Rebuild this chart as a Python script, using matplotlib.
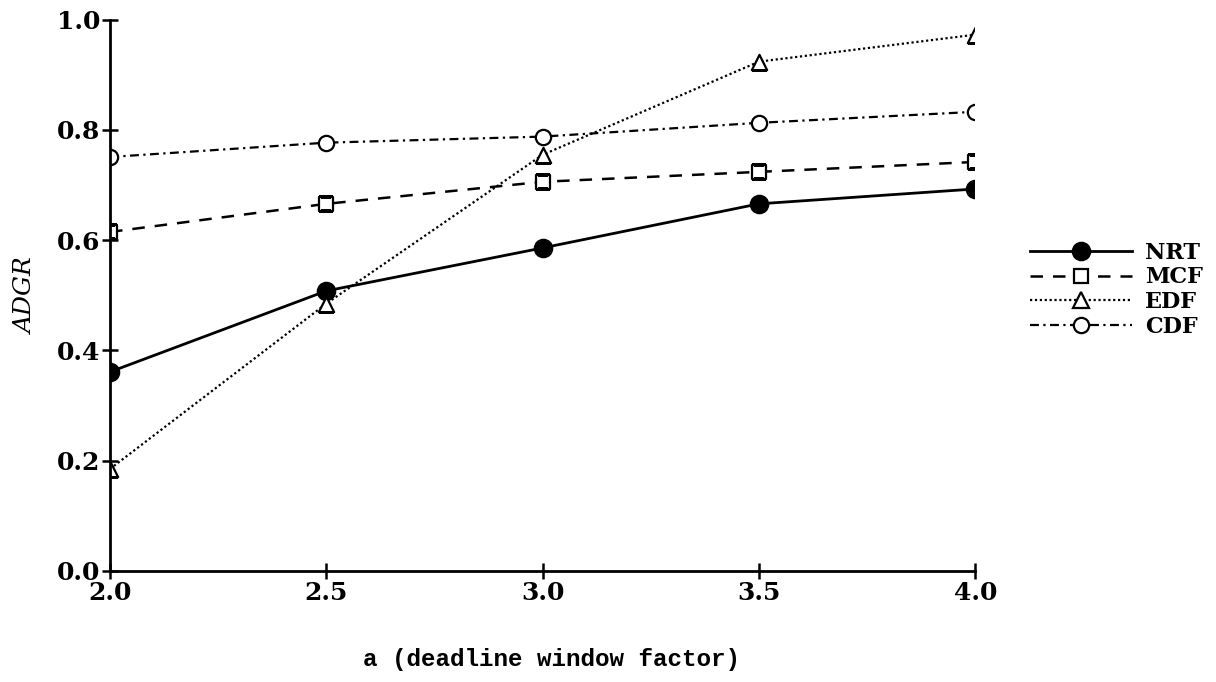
import numpy as np
import matplotlib
matplotlib.use("Agg")
import matplotlib.pyplot as plt
from matplotlib.lines import Line2D
from matplotlib.path import Path

# window factor a and ADGR for each scheduling policy
a_vals = [2.0, 2.5, 3.0, 3.5, 4.0]
nrt = [0.361, 0.508, 0.586, 0.666, 0.693]
mcf = [0.615, 0.666, 0.706, 0.724, 0.742]
edf = [0.185, 0.485, 0.755, 0.924, 0.973]
cdf = [0.751, 0.777, 0.788, 0.813, 0.833]

names = ['NRT', 'MCF', 'EDF', 'CDF']
series = [nrt, mcf, edf, cdf]
styles = [
    dict(ls='-', lw=2.0, marker='o', ms=12.5, mfc='black'),
    dict(ls=(0, (5, 4)), lw=1.8, marker='s', ms=10.5, mfc='white'),
    dict(ls=(0, (1, 1.2)), lw=1.6, marker='^', ms=11, mfc='white'),
    dict(ls=(0, (4, 2, 1, 2)), lw=1.6, marker='o', ms=11, mfc='white'),
]

fig = plt.figure(figsize=(12.16, 6.82), dpi=100)
ax = fig.add_axes([0.0905, 0.163, 0.7115, 0.808])

handles = []
for name, ys, st in zip(names, series, styles):
    ax.plot(a_vals, ys, color='black', ls=st['ls'], lw=st['lw'], zorder=2)
    pts = ax.scatter(a_vals, ys, s=st['ms'] ** 2, marker=st['marker'],
                     facecolors=st['mfc'], edgecolors='black', linewidths=1.6,
                     zorder=3)
    # cut the end markers at the axes box (a real path clip, not a clip box)
    pts.set_clip_path(Path.unit_rectangle(), ax.transAxes)
    handles.append(Line2D([], [], color='black', ls=st['ls'], lw=st['lw'],
                          marker=st['marker'], ms=st['ms'], mfc=st['mfc'],
                          mec='black', mew=1.6, label=name))

ax.set_xlim(2.0, 4.0)
ax.set_ylim(0.0, 1.0)
ax.set_xticks([2.0, 2.5, 3.0, 3.5, 4.0])
ax.set_yticks([0.0, 0.2, 0.4, 0.6, 0.8, 1.0])
ax.xaxis.set_major_formatter(matplotlib.ticker.FormatStrFormatter('%.1f'))
ax.yaxis.set_major_formatter(matplotlib.ticker.FormatStrFormatter('%.1f'))

ax.spines['top'].set_visible(False)
ax.spines['right'].set_visible(False)
ax.spines['left'].set_linewidth(2.0)
ax.spines['bottom'].set_linewidth(2.0)
ax.spines['left'].set_zorder(4)
ax.spines['bottom'].set_zorder(4)
ax.tick_params(axis='both', direction='inout', length=12, width=1.8, pad=1)

for lab in ax.get_xticklabels() + ax.get_yticklabels():
    lab.set_fontfamily('DejaVu Serif')
    lab.set_fontweight('bold')
    lab.set_fontsize(18)

ax.set_xlabel('a (deadline window factor)', family='Liberation Mono',
              fontweight='bold', fontsize=17.5, labelpad=31)
ax.xaxis.label.set_x(0.51)
ax.set_ylabel('ADGR', family='DejaVu Serif', style='italic', fontsize=18,
              labelpad=14)

ax.legend(handles=handles, loc='center left', bbox_to_anchor=(1.04, 0.51),
          frameon=False,
          prop={'family': 'DejaVu Serif', 'weight': 'bold', 'size': 16},
          handlelength=4.6, labelspacing=0.12, handletextpad=0.6)

fig.savefig('out.png', dpi=100)
